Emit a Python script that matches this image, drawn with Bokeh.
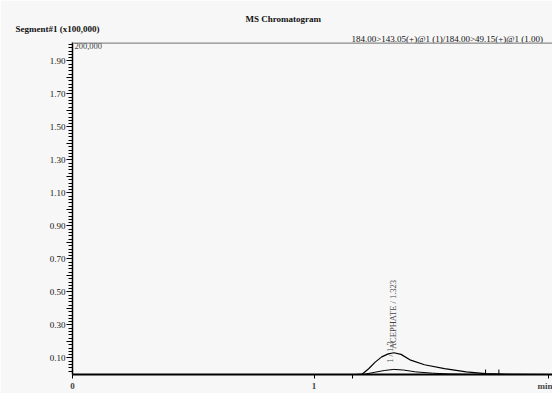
import math
from bokeh.plotting import figure
from bokeh.models import (FixedTicker, CustomJSTickFormatter, Label, Span, Range1d, Title)
from bokeh.embed import file_html
from bokeh.resources import INLINE

# ---- data (retention time in min, intensity in x100,000) ----
t_143 = [0.0, 1.10, 1.17, 1.20, 1.226, 1.253, 1.28, 1.307, 1.331, 1.36, 1.40,
         1.457, 1.54, 1.63, 1.71, 1.80, 1.99]
y_143 = [0.0, 0.0, 0.0, 0.003, 0.035, 0.075, 0.107, 0.125, 0.132, 0.122, 0.087,
         0.059, 0.036, 0.016, 0.005, 0.001, 0.0]
t_49 = [0.0, 1.12, 1.18, 1.21, 1.253, 1.29, 1.33, 1.37, 1.42, 1.49, 1.56, 1.64, 1.99]
y_49 = [0.0, 0.0, 0.0, 0.002, 0.014, 0.024, 0.031, 0.027, 0.016, 0.008, 0.003, 0.001, 0.0]
mark_t = [1.71, 1.765]
mark_h = [0.03, 0.03]

y_top = 2.012          # full scale (200,000 counts)
y_ticks = [0.1, 0.2, 0.3, 0.4, 0.5, 0.6, 0.7, 0.8, 0.9, 1.0,
           1.1, 1.2, 1.3, 1.4, 1.5, 1.6, 1.7, 1.8, 1.9]
x_ticks = [0, 1, 1.16, 1.97]
x_labels = {0: "0", 1: "1", 1.16: "", 1.97: "min"}
peak_rt = 1.323
peak_name = "ACEPHATE / 1.323"
peak_id = "1 / 1.3"

title_txt = "MS Chromatogram"
seg_txt = "Segment#1 (x100,000)"
trans_txt = "184.00>143.05(+)@1 (1)/184.00>49.15(+)@1 (1.00)"
top_txt = "200,000"

SERIF = "Liberation Serif"
BG = "#f7f7f7"

p = figure(width=552, height=393, output_backend="svg", toolbar_location=None,
           x_range=Range1d(0, 1.987), y_range=Range1d(0, y_top),
           min_border_left=72, min_border_right=0, min_border_top=42,
           min_border_bottom=18)
p.background_fill_color = BG
p.border_fill_color = BG
p.outline_line_color = None
p.grid.visible = False

# y axis
p.yaxis.ticker = FixedTicker(ticks=y_ticks,
                             minor_ticks=[round(0.02 * i, 2) for i in range(1, 101)])
p.yaxis.formatter = CustomJSTickFormatter(
    code="const k = Math.round(tick*10); return (k % 2 == 1) ? tick.toFixed(2) : '';")
p.yaxis.axis_line_width = 1.5
p.yaxis.major_tick_out = 6
p.yaxis.major_tick_in = 0
p.yaxis.minor_tick_out = 4
p.yaxis.minor_tick_in = 0
p.yaxis.major_label_text_font = SERIF
p.yaxis.major_label_text_font_size = "9px"
p.yaxis.major_label_text_color = "#111111"
p.yaxis.major_label_standoff = 1

p.xaxis.ticker = FixedTicker(ticks=x_ticks, minor_ticks=[])
p.xaxis.major_label_overrides = x_labels
p.xaxis.major_tick_out = 4
p.xaxis.major_tick_in = 0
p.xaxis.axis_line_width = 2
p.xaxis.major_label_text_font = SERIF
p.xaxis.major_label_text_font_size = "9px"
p.xaxis.major_label_text_font_style = "bold"
p.xaxis.major_label_standoff = 2

# top frame line at full scale
p.add_layout(Span(location=y_top, dimension="width", line_color="#8a8a8a",
                  line_width=2.5))

# traces
p.line(t_143, y_143, line_color="black", line_width=1.2)
p.line(t_49, y_49, line_color="black", line_width=1.0)
p.segment(x0=mark_t, y0=[0, 0], x1=mark_t, y1=mark_h, line_color="black",
          line_width=1)

# peak labels
p.add_layout(Label(x=peak_rt - 0.008, y=0.071, text=peak_id, angle=math.pi / 2,
                   text_font=SERIF, text_font_size="8.5px",
                   text_align="left", text_baseline="middle"))
p.add_layout(Label(x=peak_rt + 0.004, y=0.154, text=peak_name, angle=math.pi / 2,
                   text_font=SERIF, text_font_size="8.5px",
                   text_align="left", text_baseline="middle"))
p.add_layout(Label(x=0.008, y=1.99, text=top_txt, text_font=SERIF,
                   text_font_size="8.5px", text_align="left",
                   text_baseline="middle"))

# header texts (stacked above the frame)
def head(txt, offset, bold, standoff):
    return Title(text=txt, align="left", offset=offset, text_font=SERIF,
                 text_font_size="9px",
                 text_font_style="bold" if bold else "normal",
                 text_color="#111111", standoff=standoff)

p.add_layout(head(trans_txt, 279, False, -2.5), "above")
p.add_layout(head(seg_txt, -57, True, -3), "above")
p.add_layout(head(title_txt, 173, True, -1), "above")

open("out.html", "w").write(file_html(p, INLINE))
